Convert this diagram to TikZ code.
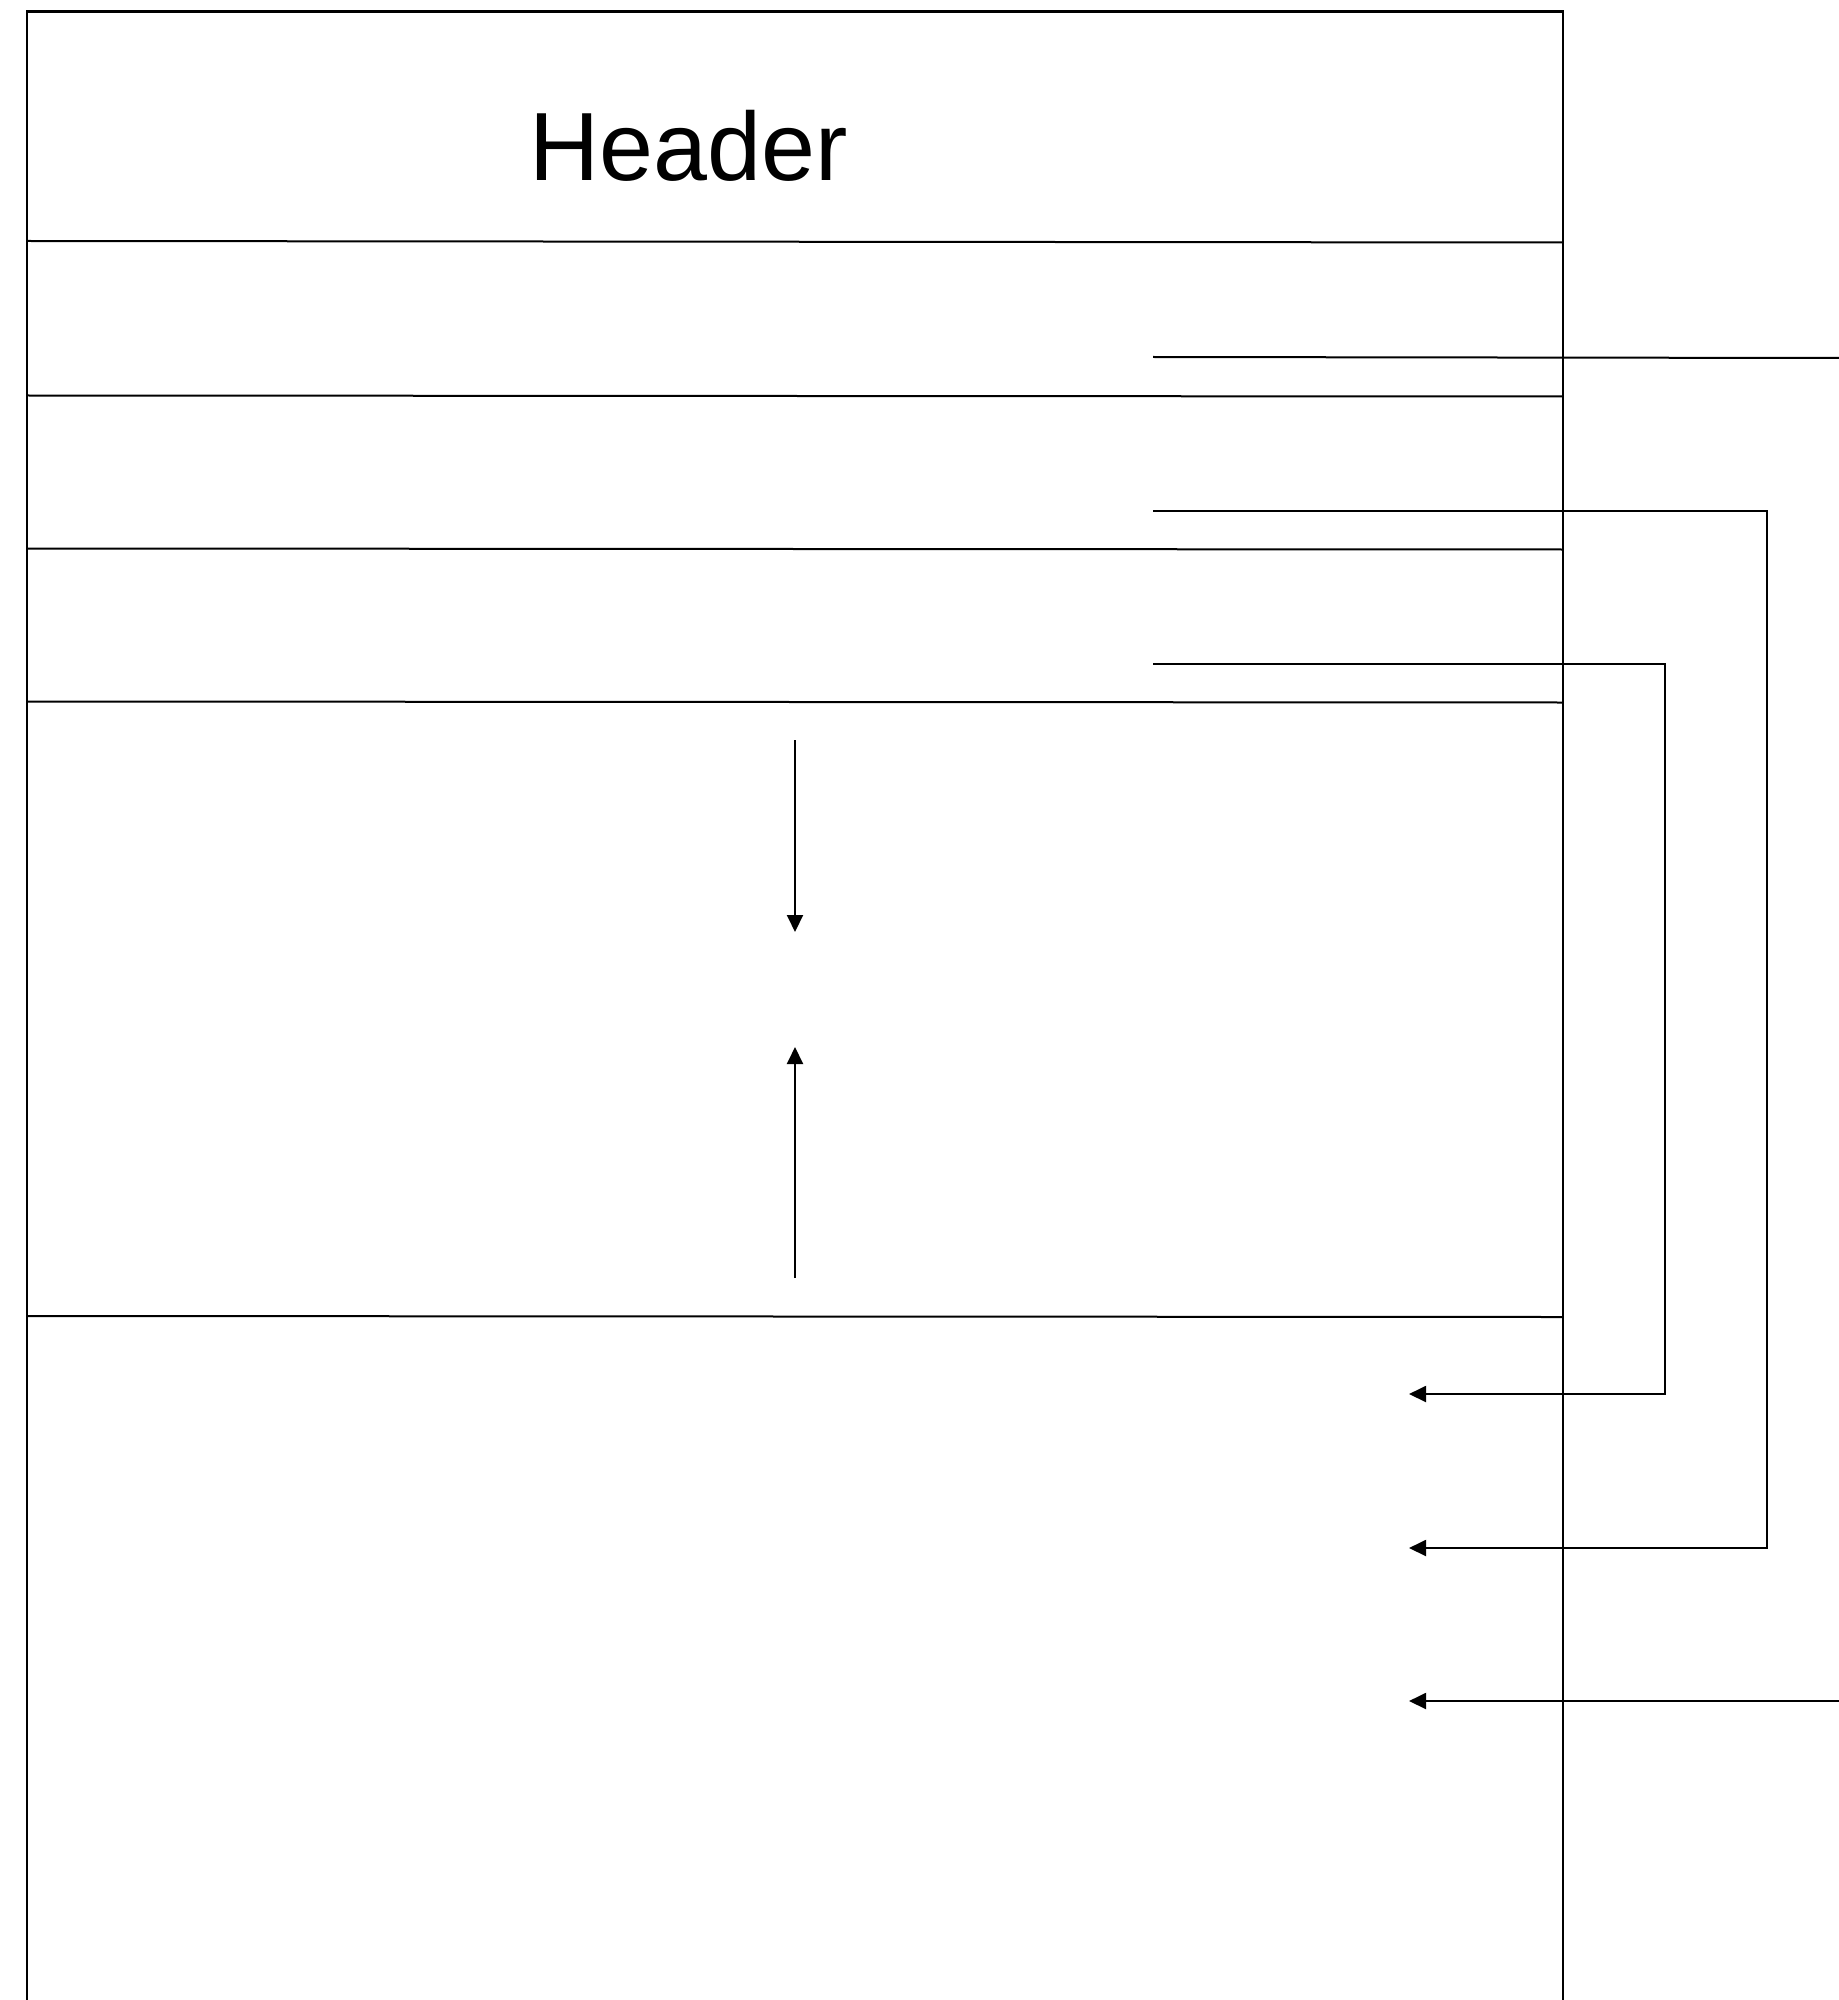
\documentclass[tikz,border=0pt]{standalone}
\usepackage{fontspec}
\setmainfont{Liberation Sans}
\usetikzlibrary{arrows.meta}
\begin{document}
\begin{tikzpicture}[x=0.5pt,y=-0.5pt,
  frame/.style={line width=1.1pt},
  divider/.style={line width=1pt},
  wire/.style={line width=1pt},
  flow/.style={line width=1pt,-{Triangle[length=8.5pt,width=8pt]}}]
\useasboundingbox (0,0) rectangle (1839,2000);

% outer column, open at the bottom
\draw[frame] (27,2000) -- (27,11.5) -- (1563,11.5) -- (1563,2000);

% section dividers
\draw[divider] (27,241)   -- (1563,242.5);
\draw[divider] (27,395.5) -- (1563,396.5);
\draw[divider] (27,548.5) -- (1563,549.5);
\draw[divider] (27,701.5) -- (1563,702.5);
\draw[divider] (27,1316)  -- (1563,1317);

% title
\node[anchor=base, inner sep=0pt, font=\fontsize{48.5pt}{58pt}\selectfont] (header) at (689,181) {Header};

% connector end points
\coordinate (s1) at (1153,357);
\coordinate (e1) at (1839,358);
\coordinate (s2) at (1153,511);
\coordinate (b2) at (1767,511);
\coordinate (d2) at (1767,1548);
\coordinate (t2) at (1409,1548);
\coordinate (s3) at (1153,664);
\coordinate (b3) at (1665,664);
\coordinate (d3) at (1665,1394);
\coordinate (t3) at (1409,1394);
\coordinate (s4) at (1839,1701);
\coordinate (t4) at (1409,1701);
\coordinate (v1) at (795,740);
\coordinate (v1t) at (795,932);
\coordinate (v2) at (795,1278);
\coordinate (v2t) at (795,1047);

% outgoing and returning connectors
\draw[wire] (s1) -- (e1);
\draw[flow] (s2) -- (b2) -- (d2) -- (t2);
\draw[flow] (s3) -- (b3) -- (d3) -- (t3);
\draw[flow] (s4) -- (t4);

% converging vertical arrows
\draw[flow] (v1) -- (v1t);
\draw[flow] (v2) -- (v2t);
\end{tikzpicture}
\end{document}
